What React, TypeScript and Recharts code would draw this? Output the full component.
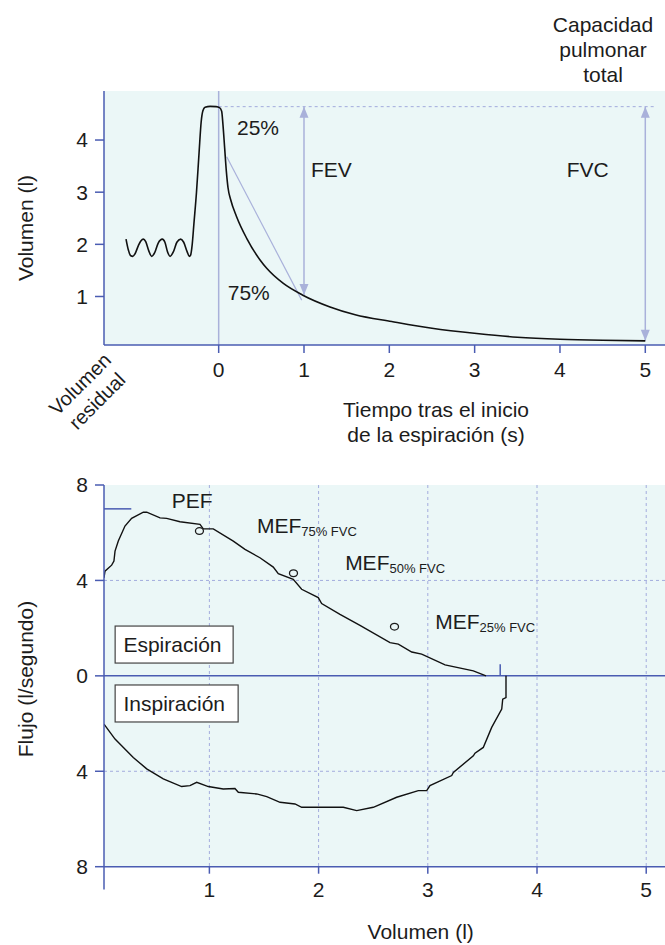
import {
  ComposedChart, Line, Scatter, XAxis, YAxis,
  CartesianGrid, ReferenceLine,
} from 'recharts';

// --- spirogram (top) ---
const spiroTime = [
  -1.086, -1.06, -1.03, -1.007, -0.98, -0.94, -0.91, -0.883, -0.855, -0.82,
  -0.785, -0.75, -0.71, -0.66, -0.63, -0.6, -0.57, -0.53, -0.49, -0.445,
  -0.41, -0.37, -0.344, -0.33, -0.31, -0.29, -0.26, -0.23, -0.205, -0.185,
  -0.16, -0.1, -0.03, 0.01, 0.035, 0.05, 0.07, 0.09, 0.11, 0.14,
  0.21, 0.33, 0.485, 0.563, 0.758, 0.981, 1.305, 1.6, 2.028, 2.5,
  3.024, 3.5, 4.0, 4.5, 5.0,
];
const spiroVolume = [
  2.1, 1.9, 1.78, 1.77, 1.82, 1.98, 2.07, 2.1, 2.05, 1.88,
  1.77, 1.84, 2.02, 2.1, 2.04, 1.86, 1.77, 1.86, 2.04, 2.1,
  2.04, 1.86, 1.77, 1.79, 2.0, 2.4, 3.0, 3.75, 4.35, 4.56,
  4.63, 4.645, 4.64, 4.62, 4.55, 4.3, 3.85, 3.4, 3.08, 2.86,
  2.53, 2.11, 1.7, 1.54, 1.25, 1.03, 0.8, 0.65, 0.52, 0.39,
  0.29, 0.22, 0.18, 0.16, 0.15,
];
const TLC = 4.64;
const slopeTime = [0.094, 0.973];
const slopeVolume = [3.68, 0.93];
const fevEnd = 1.03;
const fvcEnd = 0.15;
const timeTicks = [0, 1, 2, 3, 4, 5];
const volumeTicks = [1, 2, 3, 4];

const topNotes = [
  { x: 0.215, y: 4.09, label: '25%' },
  { x: 0.106, y: 0.93, label: '75%' },
  { x: 1.082, y: 3.3, label: 'FEV' },
  { x: 4.08, y: 3.3, label: 'FVC' },
];

// --- flow-volume loop (bottom) ---
const expVolume = [
  0.035, 0.044, 0.105, 0.126, 0.136, 0.166, 0.227, 0.288, 0.395, 0.426,
  0.548, 0.609, 0.731, 0.914, 0.944, 1.036, 1.219, 1.326, 1.463, 1.585,
  1.631, 1.768, 1.845, 1.997, 2.028, 2.196, 2.379, 2.654, 2.73, 2.853,
  2.944, 3.158, 3.417, 3.533,
];
const expFlow = [
  4.11, 4.39, 4.64, 4.81, 5.23, 5.65, 6.28, 6.6, 6.86, 6.86,
  6.62, 6.6, 6.46, 6.35, 6.16, 6.16, 5.65, 5.3, 4.95, 4.56,
  4.28, 4.05, 3.63, 3.28, 3.03, 2.58, 2.12, 1.39, 1.33, 1.0,
  0.91, 0.46, 0.21, 0.0,
];
const inspVolume = [
  0.035, 0.136, 0.303, 0.426, 0.578, 0.746, 0.822, 0.884, 0.99, 1.127,
  1.234, 1.265, 1.433, 1.525, 1.647, 1.784, 1.845, 2.196, 2.226, 2.349,
  2.501, 2.715, 2.913, 2.99, 3.02, 3.219, 3.234, 3.417, 3.432, 3.508,
  3.585, 3.677, 3.686, 3.716, 3.716,
];
const inspFlow = [
  -2.02, -2.65, -3.42, -3.9, -4.32, -4.64, -4.6, -4.46, -4.64, -4.74,
  -4.72, -4.88, -4.95, -5.06, -5.3, -5.37, -5.51, -5.51, -5.51, -5.65,
  -5.51, -5.09, -4.81, -4.81, -4.6, -4.18, -4.05, -3.35, -3.24, -3.0,
  -2.16, -1.39, -0.98, -0.91, 0.0,
];
const mefVolume = [0.909, 1.77, 2.695];
const mefFlow = [6.07, 4.3, 2.06];
const pefFlow = 7;
const endVolume = 3.663;
const flowTicks = [-8, -4, 0, 4, 8];
const loopVolumeTicks = [1, 2, 3, 4, 5];

const flowNotes = [
  { x: 0.656, y: 7.05, label: 'PEF', sub: '' },
  { x: 1.435, y: 5.97, label: 'MEF', sub: '75% FVC' },
  { x: 2.243, y: 4.44, label: 'MEF', sub: '50% FVC' },
  { x: 3.068, y: 1.95, label: 'MEF', sub: '25% FVC' },
];
const phaseBoxes = [
  { x: 0.213, y: 1.01, label: 'Espiración' },
  { x: 0.213, y: -1.46, label: 'Inspiración' },
];

const pair = (xs: number[], ys: number[]) => xs.map((x, i) => ({ x, y: ys[i] }));

const BLUE = '#4a5cb2';
const LIGHT = '#a9b1da';
const GRID = '#a3acdd';
const BG = '#ebf7f7';
const INK = '#1c1c1c';
const FONT = "'Liberation Sans', Arial, sans-serif";

const axisStyle = { stroke: BLUE, strokeWidth: 1.5 };
const tickStyle = { fontSize: 21, fill: INK };

function Note(props: any) {
  const { cx, cy, payload } = props;
  return (
    <text x={cx} y={cy} fontSize={21} fill={INK}>
      {payload.label}
      {payload.sub ? <tspan fontSize={13} dy={3}>{payload.sub}</tspan> : null}
    </text>
  );
}

function Arrowhead(props: any) {
  const { cx, cy, payload } = props;
  const d = payload.dir; // 1 points down, -1 points up
  const pts = `${cx},${cy} ${cx - 4.5},${cy - d * 11} ${cx + 4.5},${cy - d * 11}`;
  return <polygon points={pts} fill={LIGHT} />;
}

function OpenCircle(props: any) {
  const { cx, cy } = props;
  return <ellipse cx={cx} cy={cy} rx={4} ry={3.4} fill="none" stroke={INK} strokeWidth={1.3} />;
}

function BoxLabel(props: any) {
  const { cx, cy, payload } = props;
  const w = payload.label === 'Espiración' ? 118 : 123;
  return (
    <g>
      <rect x={cx - 8.3} y={cy - 25.7} width={w} height={37} fill="#fff" stroke="#444" strokeWidth={1.2} />
      <text x={cx} y={cy} fontSize={21} fill={INK}>{payload.label}</text>
    </g>
  );
}

export default function App() {
  const spiro = pair(spiroTime, spiroVolume);
  const slope = pair(slopeTime, slopeVolume);
  const heads = [
    { x: 1, y: TLC, dir: -1 },
    { x: 1, y: fevEnd, dir: 1 },
    { x: 5, y: TLC, dir: -1 },
    { x: 5, y: fvcEnd, dir: 1 },
  ];
  const expiration = pair(expVolume, expFlow);
  const inspiration = pair(inspVolume, inspFlow);
  const mef = pair(mefVolume, mefFlow);

  return (
    <div style={{ position: 'absolute', left: 0, top: 0, width: 665, height: 945, fontFamily: FONT, background: '#fff' }}>
      <div style={{ position: 'absolute', left: 0, top: 0 }}>
        <ComposedChart width={665} height={445} margin={{ top: 91, right: 0, bottom: 0, left: 0 }}>
          <CartesianGrid fill={BG} horizontal={false} vertical={false} />
          <XAxis
            type="number" dataKey="x" domain={[-1.344, 5.231]} ticks={timeTicks} interval={0}
            allowDataOverflow height={100} tickSize={8} tickMargin={9}
            axisLine={axisStyle} tickLine={axisStyle} tick={tickStyle}
          />
          <YAxis
            type="number" dataKey="y" domain={[0.07, 4.94]} ticks={volumeTicks} interval={0}
            allowDataOverflow width={104} tickSize={9} tickMargin={7}
            axisLine={axisStyle} tickLine={axisStyle} tick={tickStyle}
          />
          <ReferenceLine x={0} stroke={LIGHT} strokeWidth={1.5} />
          <ReferenceLine segment={[{ x: 0, y: TLC }, { x: 5.114, y: TLC }]} stroke={GRID} strokeDasharray="3 3" />
          <ReferenceLine segment={[{ x: 1, y: TLC }, { x: 1, y: fevEnd }]} stroke={LIGHT} strokeWidth={1.5} />
          <ReferenceLine segment={[{ x: 5, y: TLC }, { x: 5, y: fvcEnd }]} stroke={LIGHT} strokeWidth={1.5} />
          <Line data={slope} dataKey="y" type="linear" stroke={LIGHT} strokeWidth={1.2} dot={false} activeDot={false} isAnimationActive={false} />
          <Line data={spiro} dataKey="y" type="monotone" stroke="#111" strokeWidth={1.6} dot={false} activeDot={false} isAnimationActive={false} />
          <Scatter data={heads} dataKey="y" shape={Arrowhead} isAnimationActive={false} />
          <Scatter data={topNotes} dataKey="y" shape={Note} isAnimationActive={false} />
        </ComposedChart>
      </div>

      <div style={{ position: 'absolute', left: 0, top: 445 }}>
        <ComposedChart width={665} height={500} margin={{ top: 40, right: 0, bottom: 0, left: 0 }}>
          <CartesianGrid
            fill={BG} stroke={GRID} strokeDasharray="3 3"
            horizontalValues={[-4, 4]} verticalValues={loopVolumeTicks}
          />
          <XAxis
            type="number" dataKey="x" domain={[0.035, 5.172]} ticks={loopVolumeTicks} interval={0}
            allowDataOverflow height={78.3} tickSize={7} tickMargin={8}
            axisLine={axisStyle} tickLine={axisStyle} tick={tickStyle}
          />
          <YAxis
            type="number" dataKey="y" domain={[-8, 8]} ticks={flowTicks} interval={0}
            allowDataOverflow width={104} tickSize={9} tickMargin={7}
            tickFormatter={(v: number) => String(Math.abs(v))}
            axisLine={axisStyle} tickLine={axisStyle} tick={tickStyle}
          />
          <ReferenceLine y={0} stroke={BLUE} strokeWidth={1.5} />
          <ReferenceLine segment={[{ x: 0.035, y: -8 }, { x: 0.035, y: -8.96 }]} stroke={BLUE} strokeWidth={1.5} ifOverflow="visible" />
          <ReferenceLine segment={[{ x: 0.035, y: pefFlow }, { x: 0.285, y: pefFlow }]} stroke={BLUE} strokeWidth={1.5} />
          <ReferenceLine segment={[{ x: endVolume, y: 0 }, { x: endVolume, y: 0.49 }]} stroke={BLUE} strokeWidth={1.5} />
          <Line data={expiration} dataKey="y" type="linear" stroke="#111" strokeWidth={1.4} dot={false} activeDot={false} isAnimationActive={false} />
          <Line data={inspiration} dataKey="y" type="linear" stroke="#111" strokeWidth={1.4} dot={false} activeDot={false} isAnimationActive={false} />
          <Scatter data={mef} dataKey="y" shape={OpenCircle} isAnimationActive={false} />
          <Scatter data={phaseBoxes} dataKey="y" shape={BoxLabel} isAnimationActive={false} />
          <Scatter data={flowNotes} dataKey="y" shape={Note} isAnimationActive={false} />
        </ComposedChart>
      </div>

      <svg width={665} height={945} style={{ position: 'absolute', left: 0, top: 0, pointerEvents: 'none' }} fontFamily={FONT} fill={INK}>
        <text x={603} y={31.7} textAnchor="middle" fontSize={21}>Capacidad</text>
        <text x={603} y={56.7} textAnchor="middle" fontSize={21}>pulmonar</text>
        <text x={603} y={81.7} textAnchor="middle" fontSize={21}>total</text>
        <text transform="translate(33,228) rotate(-90)" textAnchor="middle" fontSize={21}>Volumen (l)</text>
        <text transform="translate(80,384) rotate(-45)" y={7} textAnchor="middle" fontSize={20}>Volumen</text>
        <text transform="translate(97,401) rotate(-45)" y={7} textAnchor="middle" fontSize={20}>residual</text>
        <text x={436} y={416.7} textAnchor="middle" fontSize={21}>Tiempo tras el inicio</text>
        <text x={436} y={441.5} textAnchor="middle" fontSize={21}>de la espiración (s)</text>
        <text transform="translate(33,679) rotate(-90)" textAnchor="middle" fontSize={21}>Flujo (l/segundo)</text>
        <text x={420.7} y={939} textAnchor="middle" fontSize={21}>Volumen (l)</text>
      </svg>
    </div>
  );
}
